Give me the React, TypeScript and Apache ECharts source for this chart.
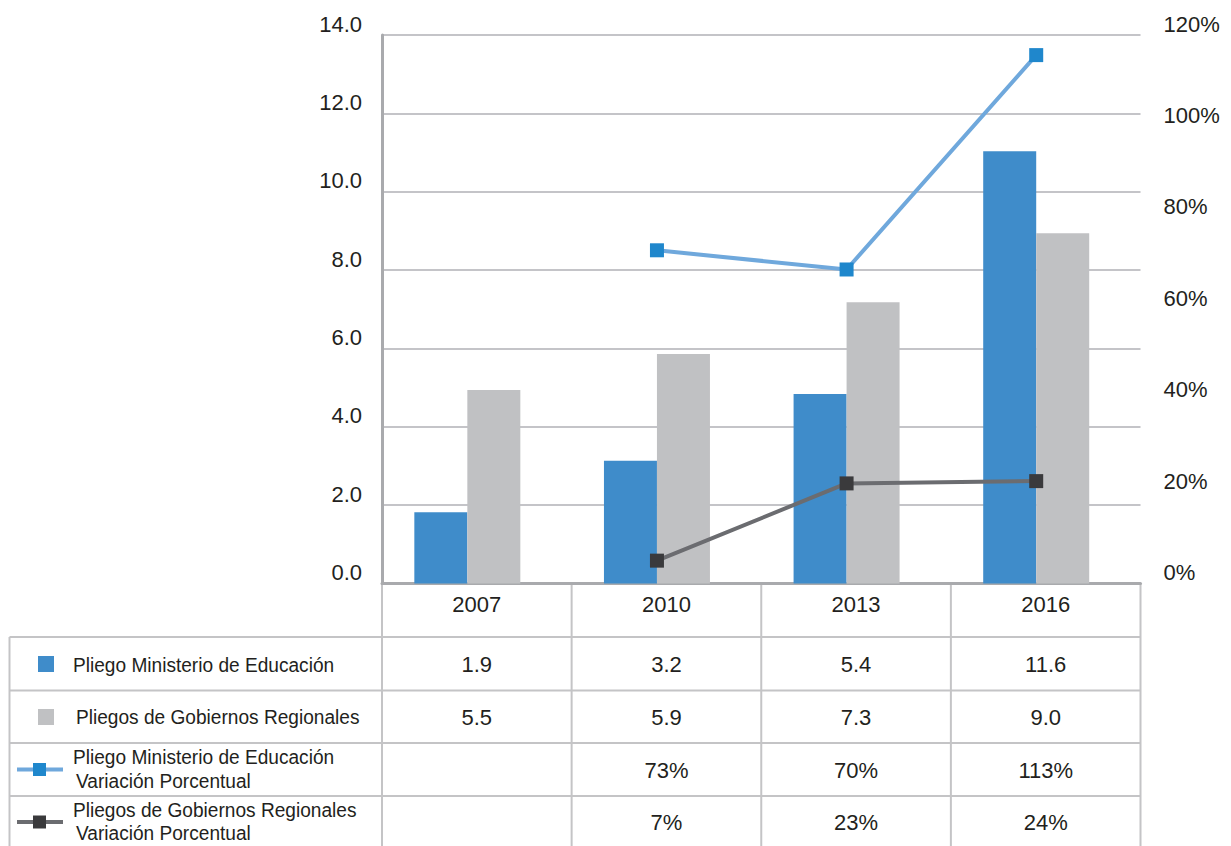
import React, { useEffect, useRef } from "react";
import * as echarts from "echarts";

// ---- data ----
const years = ["2007", "2010", "2013", "2016"];
// bar heights as drawn in the picture (left axis, millions)
const minEduBars = [1.82, 3.13, 4.84, 11.03];
const gobRegBars = [4.94, 5.86, 7.18, 8.94];
// line points as drawn (right axis, %)
const minEduVarLine = [null, 72.9, 68.7, 115.6];
const gobRegVarLine = [null, 5.0, 21.9, 22.4];
// values printed in the data table
const minEduTable = [1.9, 3.2, 5.4, 11.6];
const gobRegTable = [5.5, 5.9, 7.3, 9.0];
const minEduVarTable = [null, 73, 70, 113];
const gobRegVarTable = [null, 7, 23, 24];
// axes
const leftMax = 14;
const leftStep = 2;
const rightMax = 120;
const rightStep = 20;
// legend labels
const labelMinEdu = "Pliego Ministerio de Educación";
const labelGobReg = "Pliegos de Gobiernos Regionales";
const labelVar = "Variación Porcentual";

// ---- styles ----
const FONT = '"Liberation Sans", Arial, Helvetica, sans-serif';
const TEXT = "#231f20";
const BLUE = "#3f8cca";
const GRAY = "#c0c1c3";
const BLUE_LINE = "#6fa8dc";
const BLUE_MARK = "#1f87cc";
const DARK_LINE = "#6b6c70";
const DARK_MARK = "#3a3a3c";
const TABLE_LINE = "#c4c4c6";

const W = 1231;
const H = 846;
const GL = 382;
const GR = 1140.5;
const GT = 35;
const GB = 583.5;

export default function App() {
  const ref = useRef<HTMLDivElement>(null);

  useEffect(() => {
    document.body.style.margin = "0";
    const chart = echarts.init(ref.current!, null, { renderer: "svg", width: W, height: H });
    const colW = (GR - GL) / 4;
    const rowLines = [637, 690.5, 743, 796];
    const rowCenters = [664.5, 717, 770, 822];

    const g: any[] = [];
    const line = (x1: number, y1: number, x2: number, y2: number, stroke: string, lw: number) =>
      g.push({ type: "line", shape: { x1, y1, x2, y2 }, style: { stroke, lineWidth: lw }, silent: true });
    const text = (
      t: string,
      x: number,
      y: number,
      align: string,
      size: number,
      scaleX = 1
    ) =>
      g.push({
        type: "text",
        x,
        y,
        scaleX,
        silent: true,
        style: {
          text: t,
          fontSize: size,
          fontFamily: FONT,
          fill: TEXT,
          textAlign: align,
          align,
          textVerticalAlign: "middle",
          verticalAlign: "middle",
        },
      });

    // table grid
    for (let i = 0; i <= 4; i++) line(GL + i * colW, GB, GL + i * colW, H, TABLE_LINE, 2);
    line(9.5, rowLines[0], 9.5, H, TABLE_LINE, 2);
    rowLines.forEach((y) => line(9.5, y, GR, y, TABLE_LINE, 2));

    // table values
    const rows: string[][] = [
      minEduTable.map((v) => v.toFixed(1)),
      gobRegTable.map((v) => v.toFixed(1)),
      minEduVarTable.map((v) => (v == null ? "" : v + "%")),
      gobRegVarTable.map((v) => (v == null ? "" : v + "%")),
    ];
    rows.forEach((r, ri) =>
      r.forEach((t, ci) => {
        if (t) text(t, GL + (ci + 0.5) * colW, rowCenters[ri], "center", 22);
      })
    );

    // legend column
    g.push({ type: "rect", shape: { x: 38, y: 656, width: 16, height: 16 }, style: { fill: BLUE }, silent: true });
    text(labelMinEdu, 73, rowCenters[0], "left", 21, 0.91);
    g.push({ type: "rect", shape: { x: 38, y: 709, width: 16, height: 16 }, style: { fill: GRAY }, silent: true });
    text(labelGobReg, 76, rowCenters[1], "left", 21, 0.91);

    line(17, 769.5, 63, 769.5, BLUE_LINE, 4);
    g.push({ type: "rect", shape: { x: 33, y: 763, width: 13, height: 13 }, style: { fill: BLUE_MARK }, silent: true });
    text(labelMinEdu, 73, 757, "left", 21, 0.91);
    text(labelVar, 76, 781, "left", 21, 0.91);

    line(17, 822, 63, 822, DARK_LINE, 4);
    g.push({ type: "rect", shape: { x: 33, y: 815.5, width: 13, height: 13 }, style: { fill: DARK_MARK }, silent: true });
    text(labelGobReg, 73, 810, "left", 21, 0.91);
    text(labelVar, 76, 833, "left", 21, 0.91);

    const pts = (arr: (number | null)[]) =>
      arr.map((v, i) => (v == null ? null : [i, v])).filter((p) => p !== null);

    const option: any = {
      animation: false,
      backgroundColor: "#ffffff",
      textStyle: { fontFamily: FONT },
      grid: { left: GL, right: W - GR, top: GT, bottom: H - GB, containLabel: false },
      xAxis: [
        {
          type: "category",
          data: years,
          boundaryGap: true,
          axisLine: { show: true, onZero: false, lineStyle: { color: "#a9aaad", width: 3 } },
          axisTick: { show: false },
          axisLabel: { fontSize: 22, color: TEXT, margin: 10, fontFamily: FONT },
          splitLine: { show: false },
        },
        {
          type: "value",
          min: -0.45,
          max: 3.55,
          show: false,
          axisLine: { onZero: false },
          splitLine: { show: false },
        },
      ],
      yAxis: [
        {
          type: "value",
          min: 0,
          max: leftMax,
          interval: leftStep,
          axisLine: { show: true, onZero: false, lineStyle: { color: "#a9aaad", width: 3 } },
          axisTick: { show: false },
          axisLabel: {
            fontSize: 22,
            color: TEXT,
            margin: 20,
            fontFamily: FONT,
            verticalAlign: "bottom",
            formatter: (v: number) => v.toFixed(1),
          },
          splitLine: { show: true, lineStyle: { color: "#c4c4c8", width: 2 } },
        },
        {
          type: "value",
          min: 0,
          max: rightMax,
          interval: rightStep,
          position: "right",
          axisLine: { show: false, onZero: false },
          axisTick: { show: false },
          axisLabel: {
            fontSize: 22,
            color: TEXT,
            margin: 23,
            fontFamily: FONT,
            verticalAlign: "bottom",
            formatter: (v: number) => v + "%",
          },
          splitLine: { show: false },
        },
      ],
      series: [
        {
          name: labelMinEdu,
          type: "bar",
          xAxisIndex: 1,
          yAxisIndex: 0,
          barWidth: 53,
          barGap: "0%",
          itemStyle: { color: BLUE },
          data: minEduBars.map((v, i) => [i, v]),
        },
        {
          name: labelGobReg,
          type: "bar",
          xAxisIndex: 1,
          yAxisIndex: 0,
          barWidth: 53,
          barGap: "0%",
          itemStyle: { color: GRAY },
          data: gobRegBars.map((v, i) => [i, v]),
        },
        {
          name: labelMinEdu + " " + labelVar,
          type: "line",
          xAxisIndex: 1,
          yAxisIndex: 1,
          symbol: "rect",
          symbolSize: 14,
          lineStyle: { color: BLUE_LINE, width: 4 },
          itemStyle: { color: BLUE_MARK },
          z: 5,
          data: pts(minEduVarLine),
        },
        {
          name: labelGobReg + " " + labelVar,
          type: "line",
          xAxisIndex: 1,
          yAxisIndex: 1,
          symbol: "rect",
          symbolSize: 14,
          lineStyle: { color: DARK_LINE, width: 4 },
          itemStyle: { color: DARK_MARK },
          z: 5,
          data: pts(gobRegVarLine),
        },
      ],
      graphic: g,
    };

    chart.setOption(option);
    return () => chart.dispose();
  }, []);

  return <div ref={ref} style={{ width: W, height: H }} />;
}
